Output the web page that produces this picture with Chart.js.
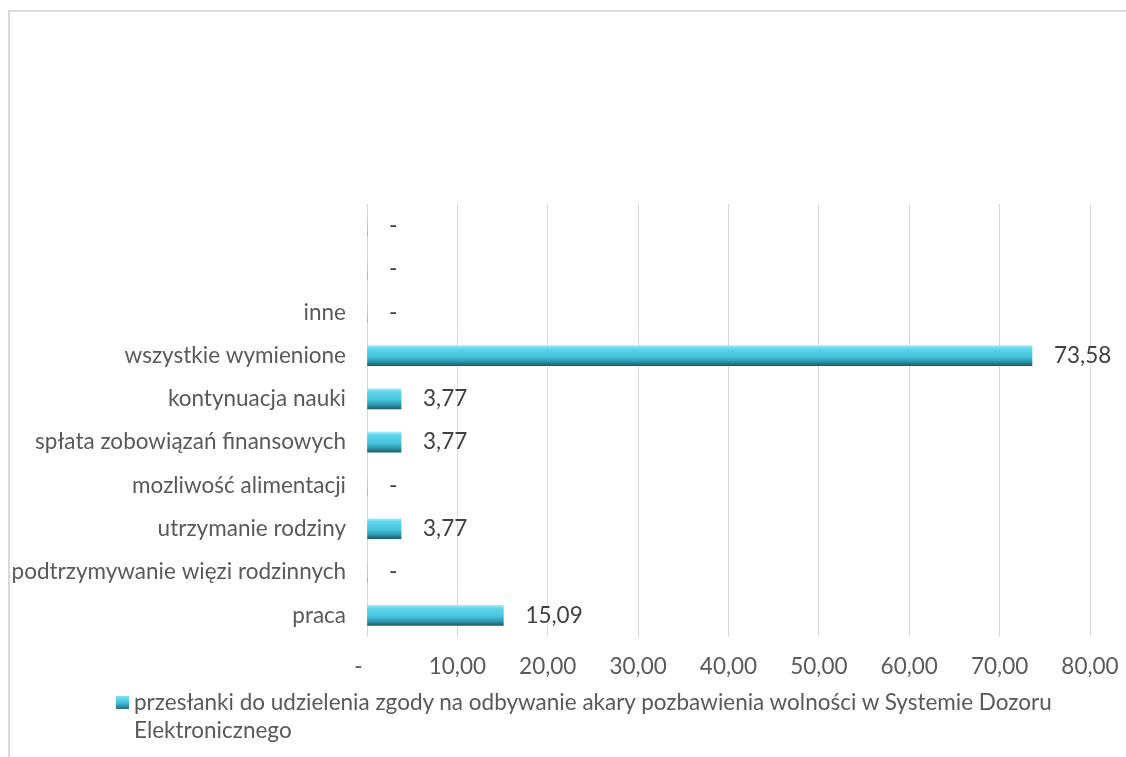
<!DOCTYPE html>
<html>
<head>
<meta charset="utf-8">
<script src="https://cdn.jsdelivr.net/npm/chart.js@4"></script>
<style>
  html, body { margin: 0; padding: 0; background: #fff; }
  #wrap { position: relative; width: 1126px; height: 757px; overflow: hidden; }
  #frame { position: absolute; left: 8px; top: 10px; right: -10px; bottom: -10px;
           border-top: 2px solid #d9d9d9; border-left: 2px solid #d9d9d9; }
  #chart { position: absolute; left: 0; top: 0; }
  #legend { position: absolute; left: 116px; top: 688px; width: 960px;
            font-family: Lato, sans-serif; font-size: 22.5px; line-height: 28px; color: #595959; }
  #legend .box { position: absolute; left: 0; top: 8px; width: 13px; height: 13px;
                 background: linear-gradient(#7fe2f4, #3fbcd6 55%, #236e80); }
  #legend .txt { margin-left: 18px; }
</style>
</head>
<body>
<div id="wrap">
  <div id="frame"></div>
  <canvas id="chart" width="1126" height="757"></canvas>
  <div id="legend"><span class="box"></span><div class="txt" id="legendText"></div></div>
</div>
<script>
// categories listed from top to bottom as they appear
const categories = ['', '', 'inne', 'wszystkie wymienione', 'kontynuacja nauki',
  'spłata zobowiązań finansowych', 'mozliwość alimentacji', 'utrzymanie rodziny',
  'podtrzymywanie więzi rodzinnych', 'praca'];
const values = [0, 0, 0, 73.58, 3.77, 3.77, 0, 3.77, 0, 15.09];
const xTicks = [0, 10, 20, 30, 40, 50, 60, 70, 80];
const seriesName = 'przesłanki do udzielenia zgody na odbywanie akary pozbawienia wolności w Systemie Dozoru Elektronicznego';

const fmt = v => v === 0 ? '-' : v.toFixed(2).replace('.', ',');
const FONT = 'Lato, sans-serif';
const FSIZE = 22.5;

document.getElementById('legendText').textContent = seriesName;

// value labels next to each bar
const barLabels = {
  id: 'barLabels',
  afterDatasetsDraw(chart) {
    const ctx = chart.ctx;
    const meta = chart.getDatasetMeta(0);
    ctx.save();
    ctx.font = FSIZE + 'px ' + FONT;
    ctx.fillStyle = '#404040';
    ctx.textAlign = 'left';
    ctx.textBaseline = 'middle';
    meta.data.forEach((bar, i) => {
      ctx.fillText(fmt(values[i]), bar.x + 22, bar.y);
    });
    ctx.restore();
  }
};

function barFill(c) {
  const chart = c.chart;
  const y = chart.scales.y ? chart.scales.y.getPixelForValue(c.dataIndex) : NaN;
  if (!isFinite(y)) return '#44c3dc';
  const g = chart.ctx.createLinearGradient(0, y - 10, 0, y + 10);
  g.addColorStop(0, '#9aeefa');
  g.addColorStop(0.15, '#62d6ec');
  g.addColorStop(0.55, '#44c3dc');
  g.addColorStop(0.8, '#2f97ad');
  g.addColorStop(1, '#1d5e6e');
  return g;
}

new Chart(document.getElementById('chart'), {
  type: 'bar',
  data: {
    labels: categories,
    datasets: [{
      label: seriesName,
      data: values,
      backgroundColor: barFill,
      borderWidth: 0,
      barThickness: 20
    }]
  },
  options: {
    indexAxis: 'y',
    responsive: false,
    animation: false,
    layout: { padding: { top: 204, right: 36, left: 0, bottom: 70 } },
    plugins: { legend: { display: false }, tooltip: { enabled: false } },
    scales: {
      x: {
        min: 0, max: 80,
        afterBuildTicks: s => { s.ticks = xTicks.map(v => ({ value: v })); },
        afterFit: s => { s.height = 50; s.paddingLeft = 0; s.paddingRight = 0; },
        grid: { color: '#d9d9d9', lineWidth: 1, drawTicks: false },
        border: { display: false },
        ticks: { callback: v => v === 0 ? '-   ' : fmt(v), color: '#595959', font: { family: FONT, size: FSIZE }, padding: 16 }
      },
      y: {
        afterFit: s => { s.width = 367; },
        grid: { display: false },
        border: { display: false },
        ticks: { color: '#595959', font: { family: FONT, size: FSIZE }, padding: 13, autoSkip: false }
      }
    }
  },
  plugins: [barLabels]
});
</script>
</body>
</html>
